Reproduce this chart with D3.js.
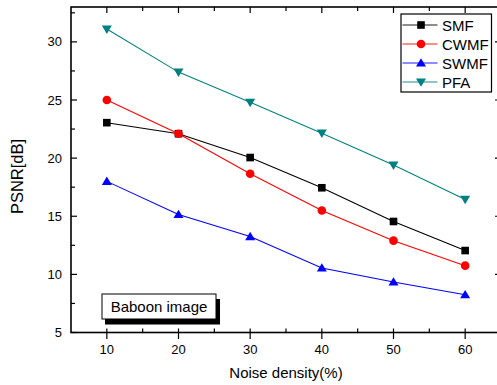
<!DOCTYPE html>
<html>
<head>
<meta charset="utf-8">
<script src="https://cdn.jsdelivr.net/npm/d3@7"></script>
<style>
  html, body { margin: 0; padding: 0; background: #fff; }
  svg { display: block; font-family: Arial, "Liberation Sans", sans-serif; }
</style>
</head>
<body>
<svg id="chart" width="497" height="385"></svg>
<script>
const noiseDensity = [10, 20, 30, 40, 50, 60];
const smf  = [23.05, 22.1, 20.05, 17.45, 14.55, 12.05];
const cwmf = [25.0, 22.1, 18.65, 15.5, 12.9, 10.75];
const swmf = [18.0, 15.15, 13.25, 10.55, 9.35, 8.25];
const pfa  = [31.1, 27.4, 24.8, 22.15, 19.4, 16.45];
const seriesNames = ["SMF", "CWMF", "SWMF", "PFA"];
const xTicks = [10, 20, 30, 40, 50, 60];
const yTicks = [5, 10, 15, 20, 25, 30];

const W = 497, H = 385;
const m = { top: 7, left: 71 };
const iW = 430, iH = 325.5;

const svg = d3.select("#chart");
const g = svg.append("g").attr("transform", `translate(${m.left},${m.top})`);

const x = d3.scaleLinear().domain([5, 65]).range([0, iW]);
const y = d3.scaleLinear().domain([5, 33]).range([iH, 0]);

const series = [
  { name: "SMF", values: smf, color: "#000000", shape: "square" },
  { name: "CWMF", values: cwmf, color: "#ff0000", shape: "circle" },
  { name: "SWMF", values: swmf, color: "#0000ff", shape: "up" },
  { name: "PFA", values: pfa, color: "#008080", shape: "down" }
];

function drawMarker(sel, shape, color) {
  if (shape === "square") {
    sel.append("rect").attr("x", -3.8).attr("y", -3.8).attr("width", 7.6).attr("height", 7.6).attr("fill", color);
  } else if (shape === "circle") {
    sel.append("circle").attr("r", 4.3).attr("fill", color);
  } else if (shape === "up") {
    sel.append("path").attr("d", "M0,-4.8L5,3.6L-5,3.6Z").attr("fill", color);
  } else {
    sel.append("path").attr("d", "M0,4.8L5,-3.6L-5,-3.6Z").attr("fill", color);
  }
}

// Lines + markers
const line = d3.line().x(d => x(d[0])).y(d => y(d[1]));
series.forEach(s => {
  const pts = noiseDensity.map((nd, i) => [nd, s.values[i]]);
  g.append("path").attr("d", line(pts)).attr("fill", "none")
    .attr("stroke", s.color).attr("stroke-width", 1.1);
  pts.forEach(p => {
    const mk = g.append("g").attr("transform", `translate(${x(p[0])},${y(p[1])})`);
    drawMarker(mk, s.shape, s.color);
  });
});

// Frame
const axisColor = "#000";
g.append("rect").attr("x", 0).attr("y", 0).attr("width", iW).attr("height", iH)
  .attr("fill", "none").attr("stroke", axisColor).attr("stroke-width", 1.6);

// X ticks (bottom: major crossing, minor inside; top: inside)
const xMinor = d3.range(15, 65, 10);
xTicks.forEach(t => {
  g.append("line").attr("x1", x(t)).attr("x2", x(t)).attr("y1", iH - 4).attr("y2", iH + 6.5).attr("stroke", axisColor).attr("stroke-width", 1.2);
  g.append("line").attr("x1", x(t)).attr("x2", x(t)).attr("y1", 0).attr("y2", 6).attr("stroke", axisColor).attr("stroke-width", 1.2);
  g.append("text").attr("x", x(t)).attr("y", iH + 21).attr("text-anchor", "middle")
    .style("font-size", "13px").attr("fill", "#000").text(t);
});
xMinor.forEach(t => {
  g.append("line").attr("x1", x(t)).attr("x2", x(t)).attr("y1", iH - 4).attr("y2", iH).attr("stroke", axisColor).attr("stroke-width", 1.2);
  g.append("line").attr("x1", x(t)).attr("x2", x(t)).attr("y1", 0).attr("y2", 4).attr("stroke", axisColor).attr("stroke-width", 1.2);
});

// Y ticks (left & right, inside)
const yMinor = d3.range(7.5, 33, 5);
yTicks.forEach(t => {
  g.append("line").attr("x1", 0).attr("x2", 6).attr("y1", y(t)).attr("y2", y(t)).attr("stroke", axisColor).attr("stroke-width", 1.2);
  g.append("line").attr("x1", iW - 6).attr("x2", iW).attr("y1", y(t)).attr("y2", y(t)).attr("stroke", axisColor).attr("stroke-width", 1.2);
  g.append("text").attr("x", -9).attr("y", y(t) + 4.5).attr("text-anchor", "end")
    .style("font-size", "13px").attr("fill", "#000").text(t);
});
yMinor.forEach(t => {
  g.append("line").attr("x1", 0).attr("x2", 4).attr("y1", y(t)).attr("y2", y(t)).attr("stroke", axisColor).attr("stroke-width", 1.2);
  g.append("line").attr("x1", iW - 4).attr("x2", iW).attr("y1", y(t)).attr("y2", y(t)).attr("stroke", axisColor).attr("stroke-width", 1.2);
});

// Axis titles
svg.append("text").attr("x", 286).attr("y", 378).attr("text-anchor", "middle")
  .style("font-size", "15px").attr("fill", "#000").text("Noise density(%)");
svg.append("text").attr("transform", "rotate(-90)").attr("x", -176.5).attr("y", 23)
  .attr("text-anchor", "middle").style("font-size", "16.5px").attr("fill", "#000").text("PSNR[dB]");

// Legend
const legend = svg.append("g").attr("transform", "translate(401,14)");
legend.append("rect").attr("x", 0).attr("y", 0).attr("width", 90.5).attr("height", 78)
  .attr("fill", "#fff").attr("stroke", "#000").attr("stroke-width", 1.2);
series.forEach((s, i) => {
  const row = legend.append("g").attr("transform", `translate(0,${11 + i * 19})`);
  row.append("line").attr("x1", 1.5).attr("x2", 36.5).attr("y1", 0).attr("y2", 0)
    .attr("stroke", s.color).attr("stroke-width", 1.6).attr("stroke-opacity", 0.6);
  const mk = row.append("g").attr("transform", "translate(20,0)");
  drawMarker(mk, s.shape, s.color);
  row.append("text").attr("x", 41).attr("y", 5.5).style("font-size", "15px").attr("fill", "#000").text(s.name);
});

// "Baboon image" annotation with shadow
const note = svg.append("g").attr("transform", "translate(102,294)");
note.append("rect").attr("x", 3).attr("y", 5).attr("width", 115).attr("height", 25.5).attr("fill", "#000");
note.append("rect").attr("x", 0).attr("y", 0).attr("width", 114).attr("height", 25)
  .attr("fill", "#fff").attr("stroke", "#000").attr("stroke-width", 1);
note.append("text").attr("x", 57).attr("y", 18).attr("text-anchor", "middle")
  .style("font-size", "15px").attr("fill", "#000").text("Baboon image");
</script>
</body>
</html>
